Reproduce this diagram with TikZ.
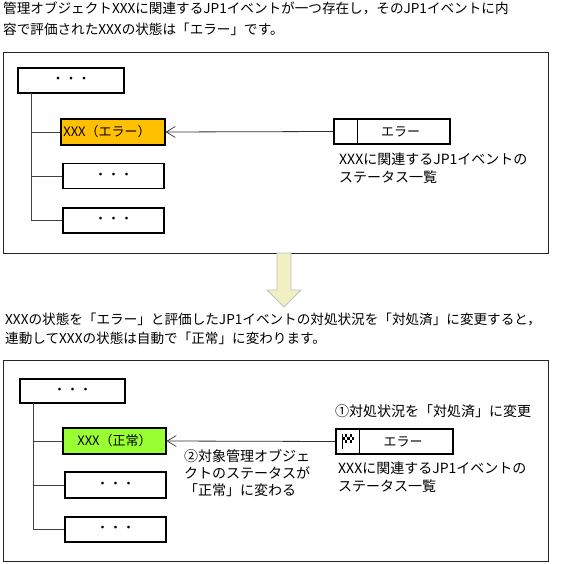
\documentclass[tikz,border=0pt]{standalone}
\usepackage{fontspec}
\setmainfont{Noto Sans CJK JP}
\tikzset{
  frame/.style={draw=black!85,line width=0.8pt,fill=white},
  box/.style={draw=black,line width=1.6pt,fill=white,inner sep=0pt,font=\fontsize{13}{15}\selectfont},
  txt/.style={anchor=west,inner sep=0pt,font=\fontsize{13.6}{15}\selectfont},
  lbl/.style={anchor=west,inner sep=0pt,font=\fontsize{14}{15}\selectfont},
  conn/.style={draw=black!75,line width=0.8pt},
  opena/.style={draw=black!80,line width=0.8pt,-{Straight Barb[length=9pt,width=11pt,line width=0.7pt]}}
}
\usetikzlibrary{arrows.meta}
\begin{document}
\begin{tikzpicture}[x=1pt,y=-1pt]
\useasboundingbox (0,0) rectangle (563,564);
% header texts
\node[txt] (h1) at (3,8.5) {管理オブジェクトXXXに関連するJP1イベントが一つ存在し，そのJP1イベントに内};
\node[txt] (h2) at (3,29) {容で評価されたXXXの状態は「エラー」です。};
% top frame
\node[frame,minimum width=545pt,minimum height=201pt] (f1) at (275.5,152.5) {};
\node[box,minimum width=106pt,minimum height=25pt] (r1) at (71,80.5) {・・・};
\node[box,minimum width=104pt,minimum height=26pt,fill={rgb,255:red,255;green,192;blue,0},line width=1.2pt] (a1) at (113,132) {\hspace*{-12pt}XXX（エラー）};
\node[box,minimum width=101pt,minimum height=25pt] (a2) at (113.5,176) {・・・};
\node[box,minimum width=101pt,minimum height=25pt] (a3) at (113.5,220.5) {・・・};
\coordinate (t1) at (31,93);
\draw[conn] (t1) |- (a1.west);
\draw[conn] (t1) |- (a2.west);
\draw[conn] (t1) |- (a3.west);
\node[box,minimum width=116pt,minimum height=25pt] (l1) at (392,131.5) {\hspace*{17pt}エラー};
\coordinate (d1t) at (357,119);
\coordinate (d1b) at (357,144);
\draw[line width=0.8pt] (d1t) -- (d1b);
\draw[opena] (l1.west) -- (a1.east);
\node[lbl] (c1) at (339,159.5) {XXXに関連するJP1イベントの};
\node[lbl] (c2) at (339,177.5) {ステータス一覧};
% block arrow
\draw[draw=black!25,fill={rgb,255:red,240;green,240;blue,196},line width=0.8pt]
  (277,253) -- (291,253) -- (291,290) -- (301,290) -- (284,307) -- (267,290) -- (277,290) -- cycle;
% middle texts
\node[txt] (h3) at (5,319) {XXXの状態を「エラー」と評価したJP1イベントの対処状況を「対処済」に変更すると，};
\node[txt] (h4) at (5,338) {連動してXXXの状態は自動で「正常」に変わります。};
% bottom frame
\node[frame,minimum width=545pt,minimum height=201pt] (f2) at (275.5,460.5) {};
\node[box,minimum width=105pt,minimum height=24pt] (r2) at (72.5,391) {・・・};
\node[box,minimum width=103pt,minimum height=26pt,fill={rgb,255:red,153;green,255;blue,51},line width=1.2pt] (b1) at (114.5,441) {XXX（正常）};
\node[box,minimum width=101pt,minimum height=26pt] (b2) at (115.5,485) {・・・};
\node[box,minimum width=101pt,minimum height=25pt] (b3) at (115.5,529.5) {・・・};
\coordinate (t2) at (33,403);
\draw[conn] (t2) |- (b1.west);
\draw[conn] (t2) |- (b2.west);
\draw[conn] (t2) |- (b3.west);
\node[box,minimum width=117pt,minimum height=25pt] (l2) at (394.5,441.5) {\hspace*{17pt}エラー};
\coordinate (d2t) at (359,429);
\coordinate (d2b) at (359,454);
\draw[line width=0.8pt] (d2t) -- (d2b);
\draw[opena] (l2.west) -- (b1.east);
% flag
\draw[line width=1pt] (342,449) -- (342,434);
\fill[black] (343,434) rectangle (354,443);
\foreach \x in {0,1,2,3,4}{\foreach \y in {0,1,2}{
  \pgfmathparse{int(mod(\x+\y,2))}
  \ifnum\pgfmathresult=0 \fill[white] ({343+\x*2.2},{434+\y*3}) rectangle ({345.2+\x*2.2},{437+\y*3}); \fi}}
\node[lbl] (n1) at (335,411.5) {①対処状況を「対処済」に変更};
\node[lbl] (c3) at (338,468) {XXXに関連するJP1イベントの};
\node[lbl] (c4) at (338,486) {ステータス一覧};
\node[lbl] (n2a) at (184,456) {②対象管理オブジェ};
\node[lbl] (n2b) at (184,472.5) {クトのステータスが};
\node[lbl] (n2c) at (184,490) {「正常」に変わる};
\end{tikzpicture}
\end{document}
